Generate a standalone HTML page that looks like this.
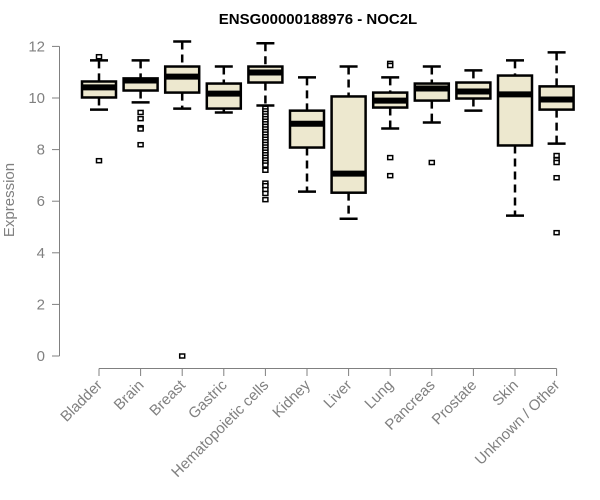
<!DOCTYPE html>
<html><head><meta charset="utf-8"><style>
html,body{margin:0;padding:0;background:#fff;}
svg{display:block;font-family:"Liberation Sans",Arial,sans-serif;}
</style></head><body>
<svg id="chart" width="600" height="500" xmlns="http://www.w3.org/2000/svg">
<text x="318" y="24" text-anchor="middle" font-size="15" font-weight="bold" fill="#000">ENSG00000188976 - NOC2L</text>
<text transform="translate(14,200) rotate(-90)" text-anchor="middle" font-size="15" fill="#808080">Expression</text>
<g id="yaxis"></g>
<g id="xaxis"></g>
<g id="plot"></g>
</svg>
<script>
const categories=["Bladder","Brain","Breast","Gastric","Hematopoietic cells","Kidney","Liver","Lung","Pancreas","Prostate","Skin","Unknown / Other"];
const whiskLow=[9.55,9.83,9.59,9.44,9.71,6.37,5.32,8.82,9.05,9.51,5.44,8.23];
const q1=[10.02,10.29,10.21,9.59,10.6,8.08,6.33,9.63,9.9,9.98,8.16,9.55];
const medians=[10.41,10.68,10.83,10.17,10.99,9.0,7.07,9.9,10.37,10.25,10.14,9.94];
const q3=[10.64,10.76,11.22,10.56,11.22,9.51,10.06,10.21,10.56,10.6,10.87,10.45];
const whiskHigh=[11.46,11.46,12.19,11.22,12.12,10.8,11.22,10.8,11.22,11.07,11.46,11.77];
const outliers=[[11.6,7.57],[9.44,9.2,8.85,8.8,8.19],[0],[],
[9.6,9.5,9.4,9.3,9.2,9.1,9.0,8.9,8.8,8.7,8.6,8.5,8.4,8.3,8.2,8.1,8.0,7.9,7.8,7.7,7.6,7.5,7.4,7.2,6.7,6.6,6.45,6.3,6.06],
[],[],[11.34,11.26,7.69,6.99],[7.5],[],[],[7.77,7.6,7.5,6.91,4.78]];
const yTicks=[0,2,4,6,8,10,12];
const NS="http://www.w3.org/2000/svg";
const y=v=>356-25.8*v;
const x=i=>99+i*41.6;
function mk(tag,attrs,parent){const e=document.createElementNS(NS,tag);for(const k in attrs)e.setAttribute(k,attrs[k]);parent.appendChild(e);return e;}
const ya=document.getElementById('yaxis'),xa=document.getElementById('xaxis'),pl=document.getElementById('plot');
mk('line',{x1:59.5,x2:59.5,y1:y(0),y2:y(12),stroke:'#808080','stroke-width':1},ya);
yTicks.forEach(t=>{
 const l=mk('line',{x1:52,x2:59.5,y1:y(t),y2:y(t),stroke:'#808080'},ya);
 
 
 const tx=mk('text',{x:45,y:y(t)+5,'text-anchor':'end','font-size':15,fill:'#808080'},ya);
 tx.textContent=t;
 
 
});
mk('line',{x1:x(0),x2:x(11),y1:368.5,y2:368.5,stroke:'#808080'},xa);
categories.forEach((c,i)=>{
 const l=mk('line',{x1:x(i),x2:x(i),y1:368.5,y2:376,stroke:'#808080'},xa);
 
 
 const tx=mk('text',{transform:`translate(${x(i)+4},${386}) rotate(-45)`,'text-anchor':'end','font-size':15,fill:'#808080'},xa);
 tx.textContent=c;
 
 
});
const hw=17;
categories.forEach((c,i)=>{
 const g=mk('g',{},pl);
 
 
 const cx=x(i);
 mk('line',{x1:cx,x2:cx,y1:y(whiskHigh[i]),y2:y(q3[i]),stroke:'#000','stroke-width':2.5,'stroke-dasharray':'8,5'},g);
 mk('line',{x1:cx,x2:cx,y1:y(q1[i]),y2:y(whiskLow[i]),stroke:'#000','stroke-width':2.5,'stroke-dasharray':'8,5'},g);
 mk('line',{x1:cx-9,x2:cx+9,y1:y(whiskHigh[i]),y2:y(whiskHigh[i]),stroke:'#000','stroke-width':2.5},g);
 mk('line',{x1:cx-9,x2:cx+9,y1:y(whiskLow[i]),y2:y(whiskLow[i]),stroke:'#000','stroke-width':2.5},g);
 mk('rect',{x:cx-hw,y:y(q3[i]),width:2*hw,height:y(q1[i])-y(q3[i]),fill:'#ede8cf',stroke:'#000','stroke-width':2.5},g);
 mk('line',{x1:cx-hw,x2:cx+hw,y1:y(medians[i]),y2:y(medians[i]),stroke:'#000','stroke-width':6},g);
 outliers[i].forEach(v=>{
  const o=mk('rect',{x:cx-2.5,y:y(v)-2,width:5,height:4,fill:'#fff',stroke:'#000','stroke-width':1.5},g);
  
  
 });
});
</script>
</body></html>
